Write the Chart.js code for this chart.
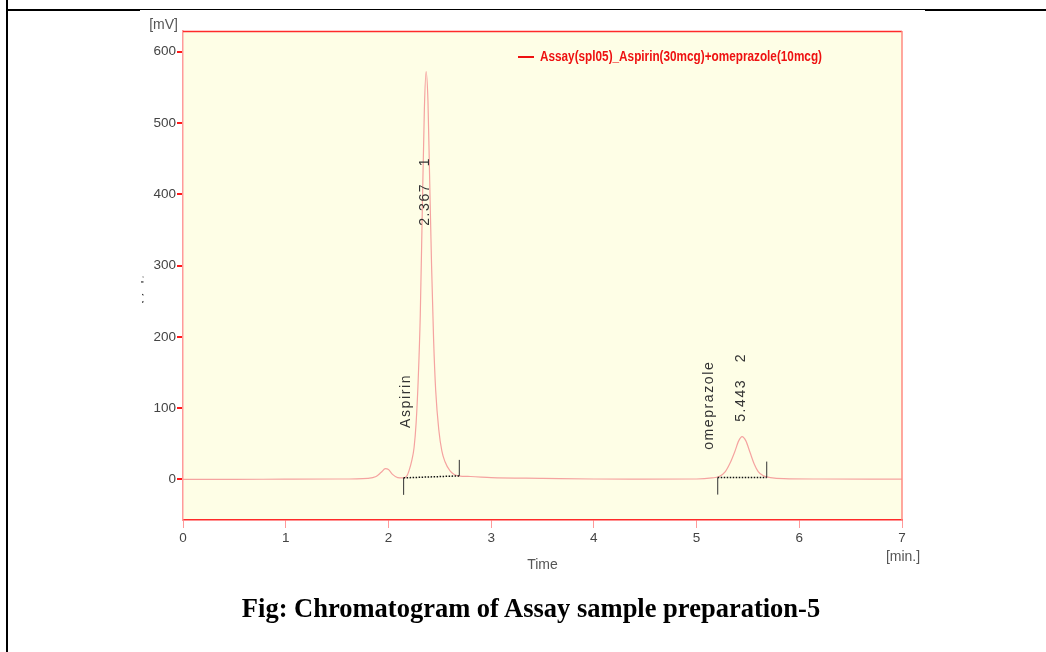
<!DOCTYPE html>
<html>
<head>
<meta charset="utf-8">
<script src="https://cdn.jsdelivr.net/npm/chart.js@4.4.1/dist/chart.umd.min.js"></script>
<style>
  html, body { margin: 0; padding: 0; background: #fff; }
  #wrap { position: relative; width: 1046px; height: 652px; overflow: hidden; }
  #chart { position: absolute; left: 0; top: 0; }
  .rule { position: absolute; background: #000; }
  #caption { position: absolute; left: 0; width: 1062px; top: 593px; line-height: 30px; text-align: center;
             font: bold 26.5px "Liberation Serif", "Times New Roman", serif; color: #000; }
</style>
</head>
<body>
<div id="wrap">
  <canvas id="chart" width="1046" height="652"></canvas>
  <div class="rule" style="left:6px;top:0;width:2px;height:652px"></div>
  <div class="rule" style="left:6px;top:9px;width:134px;height:2px"></div>
  <div class="rule" style="left:140px;top:9px;width:785px;height:1px"></div>
  <div class="rule" style="left:925px;top:9px;width:121px;height:2px"></div>
  <div id="caption">Fig: Chromatogram of Assay sample preparation-5</div>
</div>
<script>
// chromatogram trace
const timeMin  = [0, 0.5, 1.0, 1.5, 1.8, 1.88, 1.93, 1.97, 2.0, 2.04, 2.09, 2.14, 2.18, 2.2, 2.23, 2.25, 2.27, 2.29, 2.31, 2.33, 2.35, 2.367, 2.385, 2.40, 2.42, 2.44, 2.46, 2.49, 2.52, 2.55, 2.60, 2.68, 2.8, 3.0, 3.5, 4.0, 4.5, 5.0, 5.15, 5.22, 5.28, 5.33, 5.37, 5.41, 5.443, 5.48, 5.52, 5.56, 5.60, 5.65, 5.72, 5.85, 6.2, 7.0];
const signalMV = [0, 0, 0.3, 0.5, 1.5, 4, 10, 15, 14, 7, 2.5, 2, 5, 12, 28, 45, 80, 140, 230, 380, 520, 572, 530, 430, 300, 195, 125, 70, 40, 25, 12, 5, 4, 2.5, 1.5, 0.5, 0.3, 0.5, 2, 4, 11, 24, 38, 54, 60, 54, 38, 22, 11, 5, 2.5, 1, 0.5, 0.3];

const xTicks = [0, 1, 2, 3, 4, 5, 6, 7];
const yTicks = [0, 100, 200, 300, 400, 500, 600];
const seriesLabel = 'Assay(spl05)_Aspirin(30mcg)+omeprazole(10mcg)';

// integrated peaks
const peakNames = ['Aspirin', 'omeprazole'];
const peakRT = [2.367, 5.443];
const peakNo = [1, 2];
const baseStartT = [2.148, 5.206];
const baseStartV = [2.1, 2.5];
const baseEndT = [2.69, 5.683];
const baseEndV = [4.9, 2.5];

// where the rotated peak texts sit (data units)
const rtLabelX = [2.358, 5.437], rtLabelY = [404, 129];
const nameLabelX = [2.175, 5.118], nameLabelY = [110, 104];

const tickFont = { family: "'Liberation Sans Narrow', 'Arial Narrow', Arial, sans-serif", size: 13.5 };

function vtext(ctx, text, x, y) {
    ctx.save();
    ctx.translate(x, y);
    ctx.rotate(-Math.PI / 2);
    ctx.textAlign = 'center';
    ctx.textBaseline = 'middle';
    ctx.fillText(text, 0, 0);
    ctx.restore();
}

// condensed text: squeeze to a given width
function narrowText(ctx, text, x, y, w) {
    const m = ctx.measureText(text).width;
    ctx.save();
    ctx.translate(x, y);
    ctx.scale(Math.min(1, w / m), 1);
    ctx.fillText(text, 0, 0);
    ctx.restore();
}

const decor = {
    id: 'decor',
    beforeDraw(chart) {
        const { ctx, chartArea: a } = chart;
        ctx.save();
        ctx.fillStyle = '#fefee6';
        ctx.fillRect(a.left, a.top, a.right - a.left, a.bottom - a.top);
        ctx.restore();
    },
    afterDraw(chart) {
        const { ctx, chartArea: a, scales } = chart;
        const xs = scales.x, ys = scales.y;
        ctx.save();

        // top + right frame of plot
        ctx.strokeStyle = '#ff2a2a'; ctx.lineWidth = 1.5;
        ctx.beginPath(); ctx.moveTo(a.left, a.top + 0.5); ctx.lineTo(a.right, a.top + 0.5); ctx.stroke();
        ctx.strokeStyle = '#ff8a80'; ctx.lineWidth = 1.5;
        ctx.beginPath(); ctx.moveTo(a.right, a.top); ctx.lineTo(a.right, a.bottom); ctx.stroke();

        // unit labels
        ctx.fillStyle = '#555';
        ctx.font = "14px 'Liberation Sans Narrow', 'Arial Narrow', Arial, sans-serif";
        ctx.textAlign = 'right'; ctx.textBaseline = 'middle';
        ctx.fillText('[mV]', a.left - 5, a.top - 6);
        ctx.textAlign = 'center';
        ctx.fillText('[min.]', a.right + 1, a.bottom + 37);
        ctx.fillText('Time', (a.left + a.right) / 2, a.bottom + 45);

        // y title, clipped by the plot box like in the original
        ctx.save();
        ctx.beginPath(); ctx.rect(120, a.top, 23.5, a.bottom - a.top); ctx.clip();
        ctx.fillStyle = '#333';
        ctx.font = '14px Arial, sans-serif';
        ctx.letterSpacing = '1.6px';
        vtext(ctx, 'Voltage', 148, 274);
        ctx.restore();

        // legend
        ctx.strokeStyle = '#ee1111'; ctx.lineWidth = 2;
        ctx.beginPath(); ctx.moveTo(a.left + 335, a.top + 26); ctx.lineTo(a.left + 351, a.top + 26); ctx.stroke();
        ctx.fillStyle = '#ee1111';
        ctx.font = "bold 14px 'Liberation Sans Narrow', 'Arial Narrow', Arial, sans-serif";
        ctx.textAlign = 'left'; ctx.textBaseline = 'middle';
        narrowText(ctx, seriesLabel, a.left + 357, a.top + 26, 282);

        // baselines of the integrated peaks
        for (let i = 0; i < peakNames.length; i++) {
            const x0 = xs.getPixelForValue(baseStartT[i]), y0 = ys.getPixelForValue(baseStartV[i]);
            const x1 = xs.getPixelForValue(baseEndT[i]), y1 = ys.getPixelForValue(baseEndV[i]);
            ctx.strokeStyle = '#333'; ctx.lineWidth = 1; ctx.setLineDash([]);
            ctx.beginPath(); ctx.moveTo(x0, y0); ctx.lineTo(x0, y0 + 17); ctx.stroke();
            ctx.beginPath(); ctx.moveTo(x1, y1); ctx.lineTo(x1, y1 - 16); ctx.stroke();
            ctx.strokeStyle = '#111'; ctx.lineWidth = 1.5; ctx.setLineDash([1.5, 1.5]);
            ctx.beginPath(); ctx.moveTo(x0, y0); ctx.lineTo(x1, y1); ctx.stroke();
        }
        ctx.setLineDash([]);

        // peak names and retention times
        ctx.fillStyle = '#333';
        ctx.font = '14px Arial, sans-serif';
        ctx.letterSpacing = '1.6px';
        for (let i = 0; i < peakNames.length; i++) {
            vtext(ctx, peakNames[i], xs.getPixelForValue(nameLabelX[i]), ys.getPixelForValue(nameLabelY[i]));
            vtext(ctx, peakRT[i].toFixed(3) + '   ' + peakNo[i], xs.getPixelForValue(rtLabelX[i]), ys.getPixelForValue(rtLabelY[i]));
        }
        ctx.restore();
    }
};

new Chart(document.getElementById('chart'), {
    type: 'line',
    data: {
        datasets: [{
            label: seriesLabel,
            data: timeMin.map((t, i) => ({ x: t, y: signalMV[i] })),
            borderColor: '#f5a3a0',
            borderWidth: 1.2,
            pointRadius: 0,
            cubicInterpolationMode: 'monotone',
            fill: false
        }]
    },
    options: {
        responsive: false,
        animation: false,
        layout: { padding: { top: 31, right: 144, bottom: 92, left: 0 } },
        plugins: { legend: { display: false }, tooltip: { enabled: false } },
        scales: {
            x: {
                type: 'linear', min: 0, max: 7,
                afterFit: s => { s.height = 40; },
                afterBuildTicks: s => { s.ticks = xTicks.map(v => ({ value: v })); },
                ticks: { color: '#444', font: tickFont, padding: 2, maxRotation: 0 },
                grid: { drawOnChartArea: false, tickLength: 8, color: '#ff9a9a', lineWidth: 1 },
                border: { color: '#ff2a2a', width: 1.5 }
            },
            y: {
                type: 'linear', min: -57, max: 629,
                afterFit: s => { s.width = 183; },
                afterBuildTicks: s => { s.ticks = yTicks.map(v => ({ value: v })); },
                ticks: { color: '#444', font: tickFont, padding: 1 },
                grid: { drawOnChartArea: false, tickLength: 6, color: '#ff1a1a', lineWidth: 2 },
                border: { color: '#ff9a9a', width: 1.5 }
            }
        }
    },
    plugins: [decor]
});
</script>
</body>
</html>
